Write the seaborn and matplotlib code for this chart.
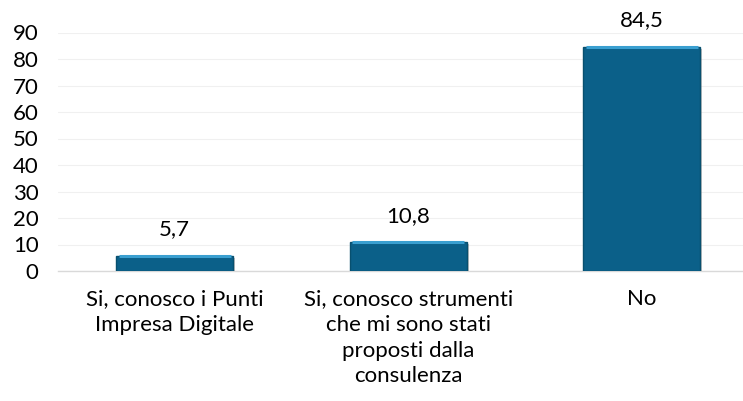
import matplotlib
matplotlib.use("Agg")
import matplotlib.pyplot as plt
import matplotlib.patheffects as pe
import seaborn as sns
import pandas as pd

categories = [
    "Si, conosco i Punti\nImpresa Digitale",
    "Si, conosco strumenti\nche mi sono stati\nproposti dalla\nconsulenza",
    "No",
]
values = [5.7, 10.8, 84.5]
value_labels = ["5,7", "10,8", "84,5"]
y_ticks = [0, 10, 20, 30, 40, 50, 60, 70, 80, 90]

sns.set_theme(style="white")
plt.rcParams["font.family"] = ["Lato", "DejaVu Sans"]

df = pd.DataFrame({"cat": categories, "val": values})

fig = plt.figure(figsize=(7.43, 4.01), dpi=100)
ax = fig.add_axes([58 / 743, 130 / 401, 685 / 743, 238.5 / 401])

sns.barplot(data=df, x="cat", y="val", color="#0B6089", width=0.5,
            saturation=1, ax=ax, zorder=3)

# bevelled look: darker rim, light top highlight, soft drop shadow
for bar in ax.patches:
    bar.set_edgecolor("#08506f")
    bar.set_linewidth(1.0)
    bar.set_path_effects([
        pe.SimplePatchShadow(offset=(1.5, -1.5), shadow_rgbFace="#8a8a8a", alpha=0.5),
        pe.Normal(),
    ])
    ax.plot([bar.get_x() + 0.01, bar.get_x() + bar.get_width() - 0.01],
            [bar.get_height(), bar.get_height()],
            color="#3a9fd0", linewidth=2.2, solid_capstyle="butt", zorder=4)

fs = 16
for bar, lab in zip(ax.patches, value_labels):
    ax.annotate(lab, (bar.get_x() + bar.get_width() / 2, bar.get_height()),
                xytext=(0, 12), textcoords="offset points",
                ha="center", va="bottom", fontsize=fs, color="#000000",
                annotation_clip=False)

ax.set_xlim(-0.5, 2.433)
ax.set_ylim(0, 90)
ax.set_yticks(y_ticks)
ax.set_yticklabels([str(t) for t in y_ticks], fontsize=fs, color="#000000")
ax.tick_params(axis="x", labelsize=fs, colors="#000000", length=0, pad=13)
ax.tick_params(axis="y", length=0, pad=14)
for t in ax.get_xticklabels():
    t.set_linespacing(1.36)

ax.set_xlabel("")
ax.set_ylabel("")
ax.yaxis.grid(True, color="#f0f0f0", linewidth=0.8, zorder=0)
ax.xaxis.grid(False)
for side in ["top", "right", "left"]:
    ax.spines[side].set_visible(False)
ax.spines["bottom"].set_color("#d9d9d9")
ax.spines["bottom"].set_linewidth(1)

fig.savefig("out.png", dpi=100)
